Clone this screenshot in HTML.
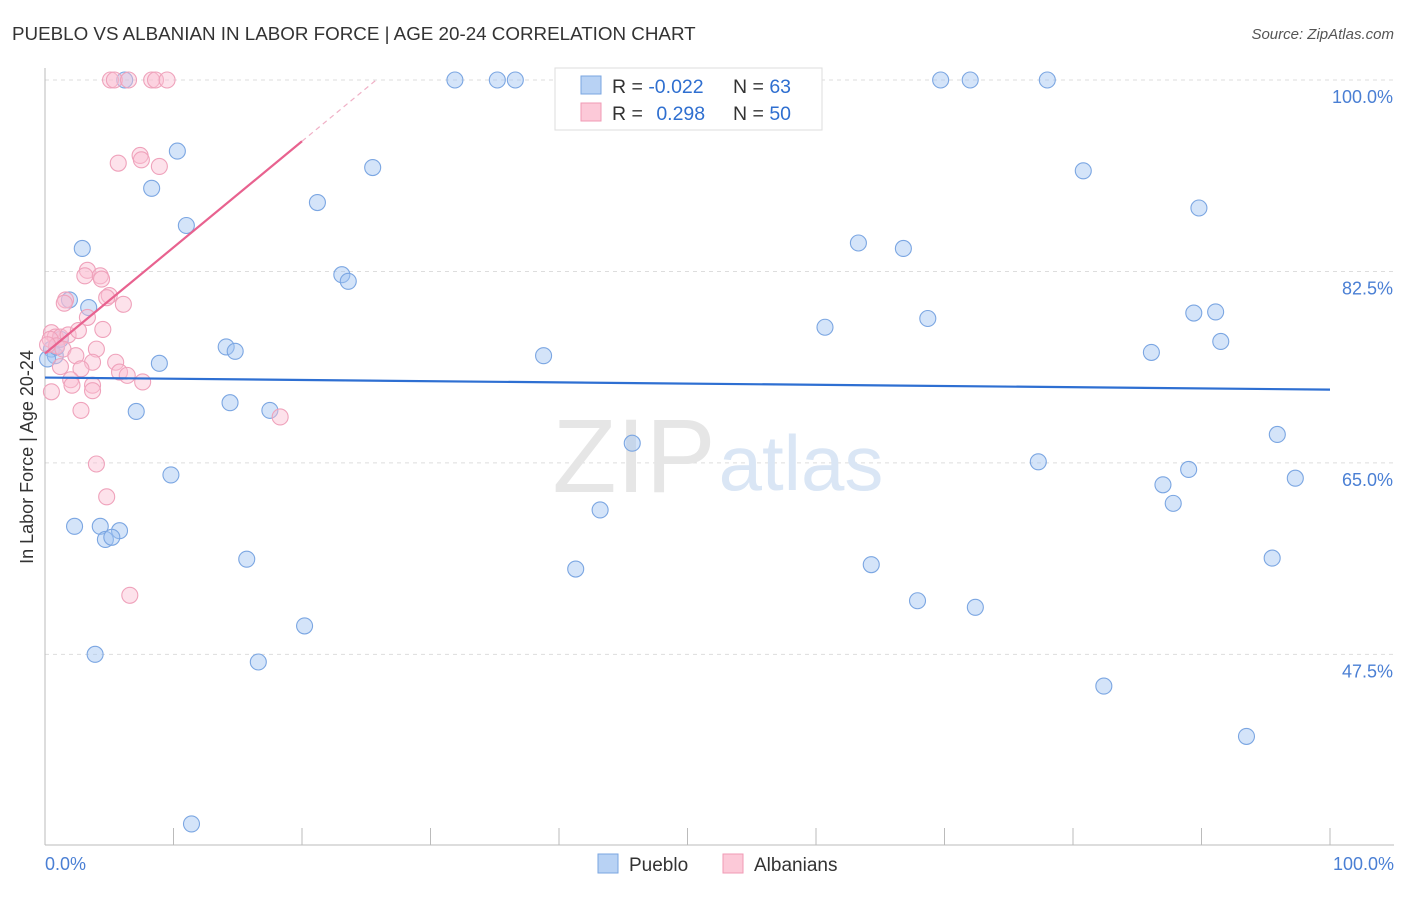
<!DOCTYPE html>
<html><head><meta charset="utf-8"><style>
body{margin:0;background:#fff;font-family:"Liberation Sans",sans-serif}
svg text{font-family:"Liberation Sans",sans-serif}
</style></head><body>
<svg width="1406" height="892" viewBox="0 0 1406 892">
<text x="12" y="40" font-size="18.8" fill="#333">PUEBLO VS ALBANIAN IN LABOR FORCE | AGE 20-24 CORRELATION CHART</text>
<text x="1394" y="39" font-size="15" fill="#555" text-anchor="end" font-style="italic">Source: ZipAtlas.com</text>
<g id="grid"></g>
<text x="634" y="492" font-size="105" fill="#e6e6e6" text-anchor="middle" font-family="Liberation Serif">ZIP</text>
<text x="801" y="490" font-size="78" fill="#dae6f5" text-anchor="middle">atlas</text>
<g id="pts"></g>
<g id="lines"></g>
<text x="33" y="457" font-size="18" fill="#333" text-anchor="middle" transform="rotate(-90 33 457)">In Labor Force | Age 20-24</text>
<text x="45" y="870" font-size="18" fill="#4a7fd4">0.0%</text>
<text x="1394" y="870" font-size="18" fill="#4a7fd4" text-anchor="end">100.0%</text>
<g>
<rect x="555" y="68" width="267" height="62" fill="#fff" stroke="#ddd"/>
<rect x="581" y="76" width="20" height="18" fill="#b8d2f4" stroke="#7aa6e0"/>
<rect x="581" y="103" width="20" height="18" fill="#fcc9d8" stroke="#f09ab5"/>
<text x="612" y="93" font-size="19.5" fill="#333">R = <tspan fill="#2f6fd0">-0.022</tspan></text>
<text x="733" y="93" font-size="19.5" fill="#333">N = <tspan fill="#2f6fd0">63</tspan></text>
<text x="612" y="120" font-size="19.5" fill="#333">R = <tspan fill="#2f6fd0" dx="8">0.298</tspan></text>
<text x="733" y="120" font-size="19.5" fill="#333">N = <tspan fill="#2f6fd0">50</tspan></text>
</g>
<g><rect x="598" y="854" width="20" height="19" fill="#b8d2f4" stroke="#7aa6e0"/><text x="629" y="871" font-size="19" fill="#333">Pueblo</text></g>
<g><rect x="723" y="854" width="20" height="19" fill="#fcc9d8" stroke="#f09ab5"/><text x="754" y="871" font-size="19" fill="#333">Albanians</text></g>
</svg>
<script>
const yTicks=[100,82.5,65,47.5];
const yTickLabels=["100.0%","82.5%","65.0%","47.5%"];
const xTicks=[0,10,20,30,40,50,60,70,80,90,100];
const puebloX=[6.2,31.9,35.2,36.6,69.7,72.0,78.0,10.3,8.3,25.5,21.2,11.0,2.9,23.1,23.6,1.9,3.4,63.3,66.8,80.8,89.8,60.7,68.7,89.4,91.1,91.5,86.1,38.8,14.1,14.8,8.9,0.5,0.8,0.2,7.1,14.4,17.5,45.7,9.8,77.3,89.0,87.0,87.8,95.9,97.3,43.2,2.3,4.3,5.8,4.7,5.2,15.7,41.3,64.3,95.5,67.9,72.4,20.2,3.9,16.6,82.4,93.5,11.4,0.9,1.2];
const puebloY=[100,100,100,100,100,100,100,93.5,90.1,92.0,88.8,86.7,84.6,82.2,81.6,79.9,79.2,85.1,84.6,91.7,88.3,77.4,78.2,78.7,78.8,76.1,75.1,74.8,75.6,75.2,74.1,75.4,74.8,74.5,69.7,70.5,69.8,66.8,63.9,65.1,64.4,63.0,61.3,67.6,63.6,60.7,59.2,59.2,58.8,58.0,58.2,56.2,55.3,55.7,56.3,52.4,51.8,50.1,47.5,46.8,44.6,40.0,32.0,75.6,76.3];
const albX=[5.1,5.4,6.5,8.3,8.6,9.5,5.7,7.4,7.5,8.9,3.3,3.1,4.3,4.4,5.0,4.8,6.1,1.6,1.5,3.3,4.5,0.5,0.8,1.2,1.8,2.6,0.4,0.9,1.4,4.0,2.4,5.5,3.7,5.8,6.4,2.8,7.6,1.2,2.0,2.1,3.7,3.7,0.5,2.8,18.3,4.0,4.8,6.6,0.2];
const albY=[100,100,100,100,100,100,92.4,93.1,92.7,92.1,82.6,82.1,82.1,81.8,80.3,80.1,79.5,79.9,79.6,78.3,77.2,76.9,76.5,76.5,76.7,77.1,76.3,75.7,75.4,75.4,74.8,74.2,74.2,73.3,73.0,73.6,72.4,73.8,72.6,72.1,72.1,71.6,71.5,69.8,69.2,64.9,61.9,52.9,75.8];
const puebloTrend=[72.8,71.7];
const albTrend=[75.0,94.4];
const ns="http://www.w3.org/2000/svg";
const X=v=>45+v*12.85, Y=v=>80+(100-v)*10.94;
function mk(t,a,p){const e=document.createElementNS(ns,t);for(const k in a)e.setAttribute(k,a[k]);p.appendChild(e);return e;}
const g=document.getElementById('grid');
yTicks.forEach((t,i)=>{
 const l=mk('line',{x1:45,x2:1394,y1:Y(t),y2:Y(t),stroke:'#ddd','stroke-dasharray':'4,4'},g);
 
 
 const tx=mk('text',{x:1393,y:Y(t)+23,'font-size':18,fill:'#4a7fd4','text-anchor':'end'},g);
 tx.textContent=yTickLabels[i];
 
 
});
const ax=mk('line',{x1:45,x2:45,y1:68,y2:845,stroke:'#bbb'},g);


const bx=mk('line',{x1:45,x2:1394,y1:845,y2:845,stroke:'#bbb'},g);


xTicks.forEach(t=>{
 const l=mk('line',{x1:X(t),x2:X(t),y1:828,y2:845,stroke:'#bbb'},g);
 
 
});
const p=document.getElementById('pts');
puebloX.forEach((x,i)=>{
 const c=mk('circle',{cx:X(x),cy:Y(puebloY[i]),r:8,fill:'rgba(160,196,242,0.45)',stroke:'#7ba6e2','stroke-width':1.1},p);
 
 
});
albX.forEach((x,i)=>{
 const c=mk('circle',{cx:X(x),cy:Y(albY[i]),r:8,fill:'rgba(250,190,210,0.45)',stroke:'#efa2bb','stroke-width':1.1},p);
 
 
});
const L=document.getElementById('lines');
const bl=mk('line',{x1:X(0),y1:Y(puebloTrend[0]),x2:X(100),y2:Y(puebloTrend[1]),stroke:'#2e6fd2','stroke-width':2.2},L);


const sl=(albTrend[1]-albTrend[0])/20;
const pl=mk('line',{x1:X(0),y1:Y(albTrend[0]),x2:X(20),y2:Y(albTrend[1]),stroke:'#e8628f','stroke-width':2.2},L);


const xe=(100-albTrend[0])/sl;
const pd=mk('line',{x1:X(20),y1:Y(albTrend[1]),x2:X(xe),y2:Y(100),stroke:'#f0b0c6','stroke-width':1.2,'stroke-dasharray':'5,4'},L);


</script>
</body></html>
